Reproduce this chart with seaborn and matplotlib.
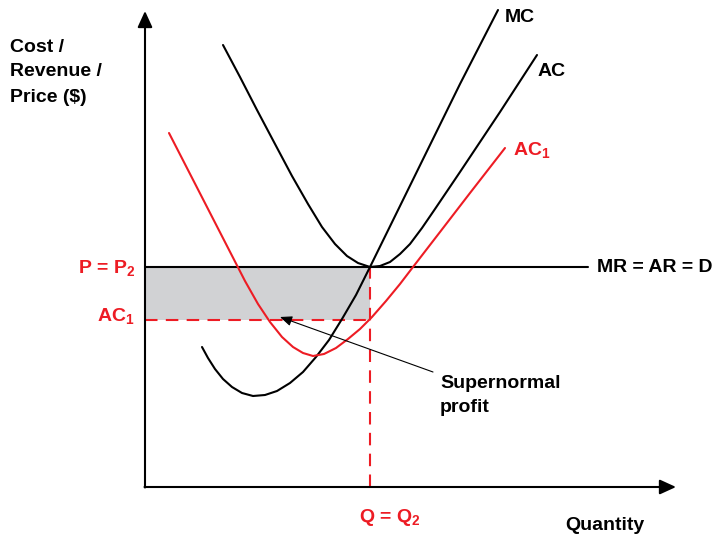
import numpy as np
import pandas as pd
import matplotlib
matplotlib.use("Agg")
import matplotlib.pyplot as plt
import seaborn as sns

# =========================================
# Data (quantity, price)
# =========================================

mc_q = [57, 63, 70, 78, 87, 97, 108, 120, 132, 145, 158, 171, 184, 197, 211,
        225, 255, 285, 315, 353]
mc_p = [140, 129, 118, 108, 100, 94, 91, 92, 96, 104, 115, 130, 147, 168, 192,
        220, 281, 342, 403, 477]

ac_q = [78, 95, 112, 130, 147, 163, 177, 190, 202, 213, 225, 235, 245, 255,
        265, 277, 290, 315, 355, 392]
ac_p = [442, 410, 377, 343, 311, 283, 260, 243, 231, 224, 220, 221, 225, 233,
        243, 259, 278, 315, 375, 432]

ac1_q = [24, 43, 62, 81, 100, 113, 125, 137, 148, 158, 168, 179, 191, 203, 215,
         227, 241, 255, 268, 295, 325, 360]
ac1_p = [354, 317, 280, 243, 206, 183, 165, 150, 140, 134, 131, 133, 139, 148,
         158, 170, 186, 203, 220, 255, 294, 339]

price = 220        # P = P2 = MR = AR = D
ac1_level = 167    # AC1 at Q2
q_star = 225       # Q = Q2
mr_end = 443

RED = "#ed1c24"
GREY = "#d1d2d4"

sns.set_theme(style="white")
plt.rcParams["font.family"] = ["Liberation Sans", "DejaVu Sans"]
plt.rcParams["mathtext.fontset"] = "custom"
plt.rcParams["mathtext.rm"] = "Liberation Sans:bold"
plt.rcParams["mathtext.default"] = "rm"
plt.rcParams["lines.solid_joinstyle"] = "round"

fig = plt.figure(figsize=(7.19, 5.39), dpi=100)
ax = fig.add_axes([0, 0, 1, 1])
ax.set_xlim(-145, 574)
ax.set_ylim(-52, 487)
ax.axis("off")

# supernormal profit area
ax.fill_between([0, q_star], ac1_level, price, color=GREY, lw=0, zorder=1)

# dashed guides
ax.plot([0, q_star], [ac1_level, ac1_level], color=RED, lw=1.5,
        dashes=(6, 4), zorder=2)
ax.plot([q_star, q_star], [0, price], color=RED, lw=1.5,
        dashes=(6, 4), zorder=2)

# MR = AR = D
ax.plot([0, mr_end], [price, price], color="black", lw=1.5, zorder=3)

curves = pd.concat([
    pd.DataFrame({"q": mc_q, "p": mc_p, "curve": "MC"}),
    pd.DataFrame({"q": ac_q, "p": ac_p, "curve": "AC"}),
    pd.DataFrame({"q": ac1_q, "p": ac1_p, "curve": "AC1"}),
])
sns.lineplot(data=curves, x="q", y="p", hue="curve", sort=False,
             estimator=None, palette={"MC": "black", "AC": "black", "AC1": RED},
             lw=1.5, legend=False, ax=ax, zorder=4)

# axes with arrows
arrow = dict(arrowstyle="-|>,head_length=0.7,head_width=0.32", color="black",
             lw=1.5, mutation_scale=14, shrinkA=0, shrinkB=0)
ax.annotate("", xy=(0, 476), xytext=(0, -0.5), arrowprops=arrow, zorder=5)
ax.annotate("", xy=(531, 0), xytext=(-0.5, 0), arrowprops=arrow, zorder=5)

# pointer to shaded area
ax.annotate("", xy=(135, 170), xytext=(288, 115),
            arrowprops=dict(arrowstyle="-|>,head_length=0.6,head_width=0.25",
                            color="black", lw=0.8, mutation_scale=12,
                            shrinkA=0, shrinkB=0), zorder=6)

fs = 14
tk = dict(fontsize=fs, fontweight="bold", va="center")
ax.text(360, 470, "MC", color="black", ha="left", **tk)
ax.text(393, 415, "AC", color="black", ha="left", **tk)
ax.text(368, 337, "AC$_1$", color=RED, ha="left", **tk)
ax.text(452, 219, "MR = AR = D", color="black", ha="left", **tk)
ax.text(-10, 219, "P = P$_2$", color=RED, ha="right", **tk)
ax.text(-10, 171, "AC$_1$", color=RED, ha="right", **tk)
ax.text(214, -30, "Q = Q$_2$", color=RED, ha="left", **tk)
ax.text(420, -38, "Quantity", color="black", ha="left", **tk)
ax.text(-135, 440, "Cost /", color="black", ha="left", **tk)
ax.text(-135, 415, "Revenue /", color="black", ha="left", **tk)
ax.text(-135, 390, "Price ($)", color="black", ha="left", **tk)
ax.text(295, 104, "Supernormal", color="black", ha="left", **tk)
ax.text(295, 79, "profit", color="black", ha="left", **tk)

fig.savefig("out.png", dpi=100)
